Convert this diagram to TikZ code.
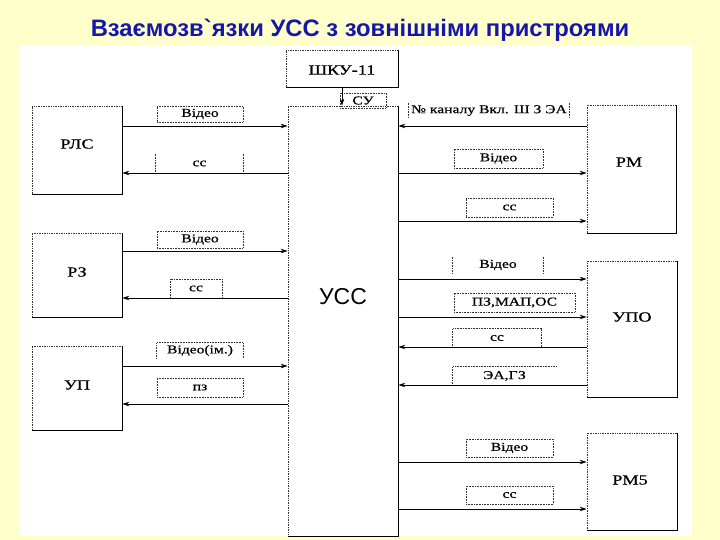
\documentclass[tikz,border=0pt]{standalone}
\usepackage{fontspec}
\setmainfont{Liberation Serif}
\newfontfamily\titlefont{Liberation Sans}
\newfontfamily\lblfont[FakeStretch=1.3,FakeBold=0.6]{Liberation Serif}
\usetikzlibrary{arrows.meta}
\definecolor{bgyellow}{RGB}{255,255,204}
\definecolor{titleblue}{RGB}{22,22,170}
\newcommand\shadowlines[1]{\draw[devshadow] (#1.north east) -- (#1.south east) -- (#1.south west);}
\newcommand\sidelines[1]{\draw[side] (#1.north west) -- (#1.south west) (#1.north east) -- (#1.south east);}
\begin{document}
\begin{tikzpicture}[x=1pt,y=-1pt,
 dev/.style={draw=black!80, densely dotted, line width=0.7pt, inner sep=0pt},
 devshadow/.style={draw=black, line width=1pt},
 devtxt/.style={font=\lblfont\fontsize{14}{14}\selectfont},
 lbl/.style={draw=black!80, densely dotted, line width=0.6pt, inner sep=0pt, font=\lblfont\fontsize{12}{12}\selectfont},
 lblopen/.style={lbl, draw=none},
 side/.style={draw=black!80, densely dotted, line width=0.6pt},
 arr/.style={line width=0.9pt, -{Stealth[length=7pt,width=4.5pt]}},
]
\useasboundingbox (0,0) rectangle (720,540);
\fill[bgyellow] (0,0) rectangle (720,540);
\fill[white] (20,45) rectangle (692,536);

% title
\node[font=\titlefont\bfseries\fontsize{23.8}{24}\selectfont, text=titleblue] (title) at (360,30) {Взаємозв`язки УСС з зовнішніми пристроями};

% devices
\node[dev, minimum width=90pt, minimum height=88pt] (rls) at (77,150) {};
\node[devtxt] (rlst) at (77,144) {РЛС};
\node[dev, minimum width=90pt, minimum height=84pt] (rz) at (77,275) {};
\node[devtxt] (rzt) at (77,272) {РЗ};
\node[dev, minimum width=90pt, minimum height=84pt] (up) at (77,388) {};
\node[devtxt] (upt) at (77,385) {УП};
\node[dev, minimum width=112pt, minimum height=37pt] (shku) at (342,68.5) {};
\node[devtxt] (shkut) at (342,70) {ШКУ-11};
\node[dev, minimum width=110pt, minimum height=430pt] (uss) at (343,321) {};
\node[font=\titlefont\fontsize{23}{23}\selectfont] (usst) at (343,297) {УСС};
\node[dev, minimum width=89pt, minimum height=128pt] (rm) at (631.5,169) {};
\node[devtxt] (rmt) at (629,162) {РМ};
\node[dev, minimum width=90pt, minimum height=136pt] (upo) at (632,329) {};
\node[devtxt] (upot) at (632,317) {УПО};
\node[dev, minimum width=90pt, minimum height=97pt] (rm5) at (632,481.5) {};
\node[devtxt] (rm5t) at (630,480) {РМ5};
\foreach \n in {rls,rz,up,shku,uss,rm,upo,rm5} {\shadowlines{\n}}

% labels left
\node[lbl, minimum width=86pt, minimum height=16pt] (l1) at (200,114) {Відео};
\node[lblopen, minimum width=87pt, minimum height=19pt] (l2) at (199.5,163.5) {сс};
\sidelines{l2}
\node[lbl, minimum width=86pt, minimum height=17pt] (l3) at (200,239.5) {Відео};
\node[lbl, minimum width=52pt, minimum height=19pt] (l4) at (196,288.5) {сс};
\node[lblopen, minimum width=86pt, minimum height=15pt] (l5) at (200,350.5) {Відео(ім.)};
\draw[side] (l5.south west) -- (l5.north west) -- (l5.north east) -- (l5.south east);
\node[lbl, minimum width=86pt, minimum height=19pt] (l6) at (200,387.5) {пз};
\node[lbl, minimum width=46pt, minimum height=15pt] (su) at (363,100.5) {СУ};

% labels right
\node[lblopen, minimum width=160pt, minimum height=15pt] (r1) at (489,110.5) {№ каналу Вкл. Ш З ЭА};
\sidelines{r1}
\node[lbl, minimum width=89pt, minimum height=19pt] (r2) at (498.5,158.5) {Відео};
\node[lbl, minimum width=87pt, minimum height=19pt] (r3) at (509.5,207.5) {сс};
\node[lblopen, minimum width=90pt, minimum height=16pt] (r4) at (498,265) {Відео};
\sidelines{r4}
\node[lbl, minimum width=121pt, minimum height=19pt] (r5) at (514.5,302.5) {ПЗ,МАП,ОС};
\node[lblopen, minimum width=88pt, minimum height=18pt] (r6) at (497,338) {сс};
\draw[side] (r6.south west) -- (r6.north west) -- (r6.north east) -- (r6.south east);
\node[lblopen, minimum width=103pt, minimum height=18pt] (r7) at (504.5,376) {ЭА,ГЗ};
\draw[side] (r7.south west) -- (r7.north west) -- (r7.north east);
\node[lbl, minimum width=87pt, minimum height=18pt] (r8) at (509.5,448) {Відео};
\node[lbl, minimum width=87pt, minimum height=18pt] (r9) at (509.5,495) {сс};

% connectors left
\draw[arr] (rls.east |- 0,126) -- (uss.west |- 0,126);
\draw[arr] (uss.west |- 0,173) -- (rls.east |- 0,173);
\draw[arr] (rz.east |- 0,251) -- (uss.west |- 0,251);
\draw[arr] (uss.west |- 0,298) -- (rz.east |- 0,298);
\draw[arr] (up.east |- 0,366) -- (uss.west |- 0,366);
\draw[arr] (uss.west |- 0,404) -- (up.east |- 0,404);
% top
\draw[arr] (shku.south) -- (uss.north -| shku.south);
% connectors right
\draw[arr] (rm.west |- 0,126) -- (uss.east |- 0,126);
\draw[arr] (uss.east |- 0,173) -- (rm.west |- 0,173);
\draw[arr] (uss.east |- 0,221) -- (rm.west |- 0,221);
\draw[arr] (uss.east |- 0,279) -- (upo.west |- 0,279);
\draw[arr] (uss.east |- 0,317) -- (upo.west |- 0,317);
\draw[arr] (upo.west |- 0,347) -- (uss.east |- 0,347);
\draw[arr] (upo.west |- 0,385) -- (uss.east |- 0,385);
\draw[arr] (uss.east |- 0,462) -- (rm5.west |- 0,462);
\draw[arr] (uss.east |- 0,509) -- (rm5.west |- 0,509);
\end{tikzpicture}
\end{document}
